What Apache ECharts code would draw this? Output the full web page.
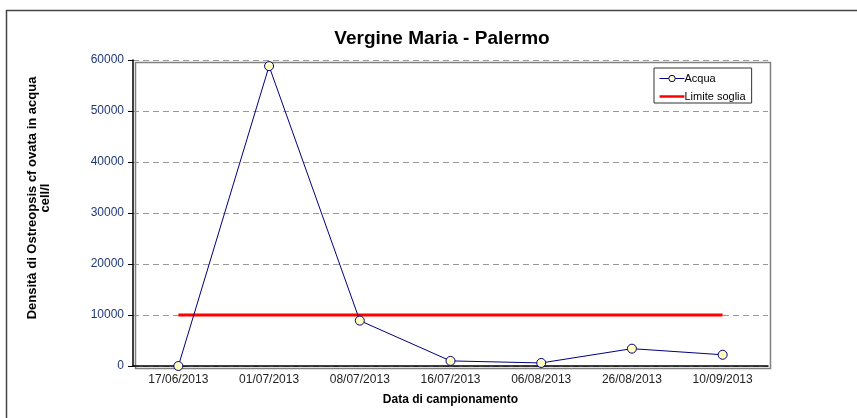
<!DOCTYPE html>
<html>
<head>
<meta charset="utf-8">
<script src="https://cdn.jsdelivr.net/npm/echarts@6/dist/echarts.min.js"></script>
<style>
  html, body { margin: 0; padding: 0; background: #fff; }
  #chart { width: 857px; height: 418px; }
</style>
</head>
<body>
<div id="chart"></div>
<script>
// Sampling dates and measured densities (cell/l)
const dates = ['17/06/2013', '01/07/2013', '08/07/2013', '16/07/2013', '06/08/2013', '26/08/2013', '10/09/2013'];
const acqua = [0, 58800, 8900, 1000, 600, 3400, 2200];
const limiteSoglia = [10000, 10000, 10000, 10000, 10000, 10000, 10000];
const yTicks = { min: 0, max: 60000, interval: 10000 };

const chart = echarts.init(document.getElementById('chart'));
const FONT = '"Liberation Sans", Arial, sans-serif';
const NAVY = '#00007A';

chart.setOption({
  backgroundColor: '#fff',
  animation: false,
  title: {
    text: 'Vergine Maria - Palermo',
    left: 437, top: 24, textAlign: 'center',
    textStyle: { fontFamily: FONT, fontSize: 19, fontWeight: 'bold', color: '#000' }
  },
  graphic: [
    { type: 'rect', left: 4, top: 8, shape: { width: 900, height: 500 },
      style: { fill: 'none', stroke: '#444', lineWidth: 1.5 }, silent: true, z: -1 },
    { type: 'rect', left: 133, top: 60, shape: { width: 635, height: 306 },
      style: { fill: 'none', stroke: '#808080', lineWidth: 1.5 }, silent: true, z: 0 }
  ],
  legend: {
    orient: 'vertical',
    left: 654, top: 68,
    itemWidth: 25, itemHeight: 8, itemGap: 7,
    padding: [5, 6, 1, 5],
    borderColor: '#333', borderWidth: 1,
    textStyle: { fontFamily: FONT, fontSize: 11, color: '#000', padding: [0, 0, 0, -5] },
    data: [
      { name: 'Acqua', lineStyle: { width: 1, color: NAVY },
        itemStyle: { color: '#FFFFC4', borderColor: NAVY, borderWidth: 1 } },
      { name: 'Limite soglia',
        icon: 'path://M0,0h0.05v0.05h-0.05z M0,2.7h25v2.6h-25z M24.95,8h0.05v0.05h-0.05z',
        itemStyle: { color: '#FF0000' } }
    ]
  },
  grid: { left: 133, right: 89, top: 60, bottom: 52 },
  xAxis: {
    type: 'category',
    data: dates,
    boundaryGap: true,
    name: 'Data di campionamento',
    nameLocation: 'middle', nameGap: 28,
    nameTextStyle: { fontFamily: FONT, fontSize: 12, fontWeight: 'bold', color: '#000' },
    axisLine: { lineStyle: { color: '#000', width: 1.5 } },
    axisTick: { show: false },
    axisLabel: { fontFamily: FONT, fontSize: 12, color: '#222', margin: 8 },
    splitLine: { show: false }
  },
  yAxis: {
    type: 'value',
    min: yTicks.min, max: yTicks.max, interval: yTicks.interval,
    name: 'Densità di Ostreopsis cf ovata in acqua\ncell/l',
    nameLocation: 'middle', nameGap: 81, nameRotate: 90,
    nameTextStyle: { fontFamily: FONT, fontSize: 13, fontWeight: 'bold', color: '#000',
      lineHeight: 13, padding: [0, 0, 0, 30] },
    axisLine: { show: true, lineStyle: { color: '#000', width: 1.5 } },
    axisTick: { show: true, length: 5, lineStyle: { color: '#000' } },
    axisLabel: { fontFamily: FONT, fontSize: 12, color: '#1F3A7A', margin: 9,
      formatter: v => String(v) },
    splitLine: { show: true, lineStyle: { color: '#999', type: [6, 4], width: 1 } }
  },
  series: [
    {
      name: 'Acqua',
      type: 'line',
      data: acqua,
      z: 3,
      color: NAVY,
      lineStyle: { color: NAVY, width: 1 },
      symbol: 'circle', symbolSize: 9,
      itemStyle: { color: '#FFFFC4', borderColor: NAVY, borderWidth: 1 }
    },
    {
      name: 'Limite soglia',
      type: 'line',
      data: limiteSoglia,
      z: 2,
      color: '#FF0000',
      symbol: 'none',
      lineStyle: { color: '#FF0000', width: 3 }
    }
  ]
});
</script>
</body>
</html>
